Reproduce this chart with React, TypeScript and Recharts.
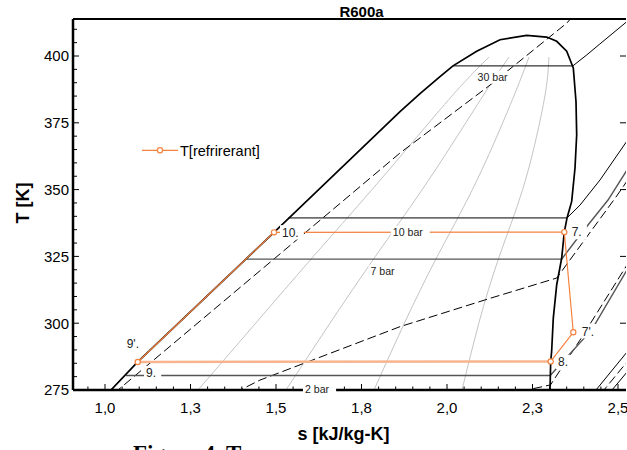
import React from "react";
import { ComposedChart, Line, XAxis, YAxis, ReferenceDot } from "recharts";

type Pt = [number, number]; // [s, T]

// axis ticks
const sMajorTicks = [1.0, 1.25, 1.5, 1.75, 2.0, 2.25, 2.5];
const sTickLabels = ["1,0", "1,3", "1,5", "1,8", "2,0", "2,3", "2,5"];
const sMinorTicks = [
  0.95, 1, 1.05, 1.1, 1.15, 1.2, 1.25, 1.3, 1.35, 1.4, 1.45, 1.5, 1.55, 1.6, 1.65, 1.7,
  1.75, 1.8, 1.85, 1.9, 1.95, 2, 2.05, 2.1, 2.15, 2.2, 2.25, 2.3, 2.35, 2.4, 2.45, 2.5,
];
const tMajorTicks = [275, 300, 325, 350, 375, 400];
const tMinorTicks = [
  275, 280, 285, 290, 295, 300, 305, 310, 315, 320, 325, 330, 335, 340, 345, 350, 355,
  360, 365, 370, 375, 380, 385, 390, 395, 400, 405, 410,
];

// saturation dome (liquid side, over the top, down the vapour side)
const satDome: Pt[] = [
  [1.001, 273.0], [1.0146, 274.6], [1.0956, 285.5], [1.4942, 334.0], [1.8626, 379.2],
  [1.9211, 385.9], [1.9795, 392.3], [2.0175, 396.3], [2.0868, 401.8], [2.155, 406.1], [2.233, 407.7],
  [2.2915, 407.1], [2.3208, 405.5], [2.35, 401.8], [2.3693, 395.5], [2.3772, 383.0],
  [2.3792, 370.5], [2.3743, 358.1], [2.3646, 345.6], [2.351, 339.4], [2.343, 334.1],
  [2.3354, 324.4], [2.3208, 314.4], [2.3108, 301.9], [2.306, 289.5], [2.3032, 285.7],
  [2.3012, 275.1], [2.3005, 273.0],
];

// quality lines (grey)
const quality02: Pt[] = [[1.2719, 275], [1.4406, 300], [1.6094, 325], [1.7807, 350], [1.9471, 375], [2.0494, 390], [2.1228, 399.6]];
const quality04: Pt[] = [[1.5292, 275], [1.6579, 300], [1.7906, 325], [1.9275, 350], [2.055, 375], [2.1301, 390], [2.1813, 399.6]];
const quality06: Pt[] = [[1.7865, 275], [1.8754, 300], [1.9716, 325], [2.0743, 350], [2.1629, 375], [2.2111, 390], [2.2398, 399.6]];
const quality08: Pt[] = [[2.0439, 275], [2.093, 300], [2.1529, 325], [2.2211, 350], [2.2708, 375], [2.2921, 390], [2.2982, 399.6]];

// isobars
const isobar30: Pt[] = [[2.0175, 396.3], [2.368, 396.3], [2.4085, 400.4], [2.447, 404.5], [2.5263, 412.9], [2.545, 415.0]];
const isobar10: Pt[] = [[1.536, 339.4], [2.351, 339.4], [2.3889, 344.2], [2.4474, 353.6], [2.5263, 368.2], [2.54, 371.0]];
const isobar7: Pt[] = [[1.4143, 324.0], [2.3354, 324.0], [2.3889, 333.0], [2.4708, 346.1], [2.5263, 357.3], [2.54, 360.0]];
const isobar2: Pt[] = [[1.0614, 280.4], [2.3017, 280.4], [2.4231, 297.5], [2.5263, 319.9], [2.54, 323.0]];
const isobarLow1: Pt[] = [[2.43, 273.5], [2.4357, 275], [2.5263, 289.2], [2.54, 291.5]];
const isobarLow2: Pt[] = [[2.477, 273.5], [2.4825, 275], [2.5263, 281.7], [2.54, 284.0]];

// dashed lines
const dashed1: Pt[] = [[1.03, 273.5], [1.038, 275], [1.491, 323.7], [1.8626, 363.7], [2.1257, 389.1], [2.351, 412.4], [2.375, 416.0]];
const dashed2: Pt[] = [[1.38, 274.0], [1.453, 278.7], [1.8626, 298.7], [2.1257, 309.3], [2.3208, 316.9], [2.4962, 347.6], [2.5263, 353.2], [2.54, 356.0]];
const dashed3: Pt[] = [[2.215, 274.5], [2.2339, 275], [2.3026, 276.9], [2.3889, 293.7], [2.5263, 321.8], [2.54, 324.5]];
const dashed4: Pt[] = [[2.453, 273.5], [2.459, 275], [2.5263, 285.5], [2.54, 287.6]];

// cycle T[refrirerant]: 9', 10, 7, 7', 8 and back to 9'
const cycleMain: Pt[] = [[1.0956, 285.5], [1.4942, 334.0], [2.343, 334.1], [2.3693, 296.6], [2.3032, 285.7]];
const cycleReturn: Pt[] = [[2.3032, 285.7], [1.0956, 285.5]];

const isobarLabels = [
  { text: "30 bar", s: 2.1404, T: 392.0 },
  { text: "10 bar", s: 1.8927, T: 334.0 },
  { text: "7 bar", s: 1.8187, T: 319.3 },
  { text: "2 bar", s: 1.6272, T: 275.4 },
];
const pointLabels = [
  { text: "10.", s: 1.5175, T: 334.0 },
  { text: "7.", s: 2.3646, T: 334.1 },
  { text: "7'.", s: 2.3939, T: 297.0 },
  { text: "8.", s: 2.3246, T: 285.5 },
  { text: "9'.", s: 1.0634, T: 292.5 },
  { text: "9.", s: 1.1199, T: 281.3 },
];

const S_DOMAIN: [number, number] = [0.9064, 2.5234];
const T_DOMAIN: [number, number] = [275, 413.85];

const ORANGE = "#f4823f";
const ORANGE_PALE = "#f7b48e";
const GREY = "#c4c4c4";
const FONT = '"Liberation Sans", Arial, sans-serif';

const rows = (pts: Pt[]) => pts.map(([s, T]) => ({ s, T }));
const majorIndex = (v: number, majors: number[]) => majors.findIndex((m) => Math.abs(m - v) < 1e-6);

function BottomTick({ x, y, payload }: any) {
  const i = majorIndex(payload.value, sMajorTicks);
  return (
    <g>
      <line x1={x} y1={y} x2={x} y2={y - (i >= 0 ? 6 : 3.5)} stroke="#000" strokeWidth={1} />
      {i >= 0 && (
        <text x={x} y={y + 23.3} textAnchor="middle" fontSize={15} fill="#000">
          {sTickLabels[i]}
        </text>
      )}
    </g>
  );
}

function TopTick({ x, y, payload }: any) {
  const i = majorIndex(payload.value, sMajorTicks);
  return <line x1={x} y1={y} x2={x} y2={y + (i >= 0 ? 6 : 3.5)} stroke="#000" strokeWidth={1} />;
}

function LeftTick({ x, y, payload }: any) {
  const i = majorIndex(payload.value, tMajorTicks);
  return (
    <g>
      <line x1={x} y1={y} x2={x + (i >= 0 ? 6 : 4)} y2={y} stroke="#000" strokeWidth={1} />
      {i >= 0 && (
        <text x={x - 4} y={y + 5.3} textAnchor="end" fontSize={15} fill="#000">
          {payload.value}
        </text>
      )}
    </g>
  );
}

function RightTick({ x, y }: any) {
  return <line x1={x} y1={y} x2={x - 6} y2={y} stroke="#000" strokeWidth={1} />;
}

function BoxLabel({ cx, cy, text, size, centered }: any) {
  const w = text.length * size * 0.55;
  const x0 = centered ? cx - w / 2 : cx;
  return (
    <g>
      <rect x={x0 - 2} y={cy - size * 0.6} width={w + 4} height={size * 1.2} fill="#fff" />
      <text x={x0} y={cy + size * 0.36} fontSize={size} fill="#222">
        {text}
      </text>
    </g>
  );
}

const plain = (key: string, pts: Pt[], stroke: string, width: number, dash?: string, type: any = "linear") => (
  <Line
    key={key}
    data={rows(pts)}
    dataKey="T"
    xAxisId="s"
    yAxisId="T"
    type={type}
    stroke={stroke}
    strokeWidth={width}
    strokeDasharray={dash}
    dot={false}
    activeDot={false}
    isAnimationActive={false}
  />
);

export default function App() {
  return (
    <div style={{ position: "absolute", left: 0, top: 0, width: 627, height: 450, fontFamily: FONT, background: "#fff" }}>
      <ComposedChart width={627} height={450} margin={{ top: 18, right: 0, bottom: 59, left: 72 }}>
        <XAxis xAxisId="s" dataKey="s" type="number" domain={S_DOMAIN} allowDataOverflow
          ticks={sMinorTicks} interval={0} tickSize={0} tickMargin={0} height={1}
          tickLine={false} tick={<BottomTick />} axisLine={{ stroke: "#000", strokeWidth: 2.5 }} />
        <XAxis xAxisId="top" orientation="top" type="number" domain={S_DOMAIN} allowDataOverflow
          ticks={sMinorTicks} interval={0} tickSize={0} tickMargin={0} height={1}
          tickLine={false} tick={<TopTick />} axisLine={{ stroke: "#000", strokeWidth: 2 }} />
        <YAxis yAxisId="T" type="number" domain={T_DOMAIN} allowDataOverflow
          ticks={tMinorTicks} interval={0} tickSize={0} tickMargin={0} width={1}
          tickLine={false} tick={<LeftTick />} axisLine={{ stroke: "#000", strokeWidth: 2.5 }} />
        <YAxis yAxisId="right" orientation="right" type="number" domain={T_DOMAIN} allowDataOverflow
          ticks={tMajorTicks} interval={0} tickSize={0} tickMargin={0} width={1}
          tickLine={false} tick={<RightTick />} axisLine={false} />

        {plain("q02", quality02, GREY, 1, undefined, "natural")}
        {plain("q04", quality04, GREY, 1, undefined, "natural")}
        {plain("q06", quality06, GREY, 1, undefined, "natural")}
        {plain("q08", quality08, GREY, 1, undefined, "natural")}

        {plain("d1", dashed1, "#000", 1, "9 4")}
        {plain("d2", dashed2, "#000", 1, "9 4")}
        {plain("d3", dashed3, "#000", 1, "9 4")}
        {plain("d4", dashed4, "#000", 1, "9 4")}

        {plain("p30", isobar30, "#000", 1)}
        {plain("p10", isobar10, "#000", 1)}
        {plain("p7", isobar7, "#555", 1.4)}
        {plain("p2", isobar2, "#555", 1.4)}
        {plain("pl1", isobarLow1, "#000", 1)}
        {plain("pl2", isobarLow2, "#000", 1)}

        {plain("dome", satDome, "#000", 1.7)}

        <Line data={rows(cycleReturn)} dataKey="T" xAxisId="s" yAxisId="T" type="linear"
          stroke={ORANGE_PALE} strokeWidth={2.5} dot={false} activeDot={false} isAnimationActive={false} />
        <Line data={rows(cycleMain)} dataKey="T" xAxisId="s" yAxisId="T" type="linear"
          stroke={ORANGE} strokeWidth={1.2} activeDot={false} isAnimationActive={false}
          dot={{ r: 2.6, fill: "#fff", stroke: ORANGE, strokeWidth: 1.2 }} />

        {isobarLabels.map((l) => (
          <ReferenceDot key={l.text} x={l.s} y={l.T} xAxisId="s" yAxisId="T" r={0} ifOverflow="visible" zIndex={2100}
            shape={(p: any) => <BoxLabel cx={p.cx} cy={p.cy} text={l.text} size={10.6} centered />} />
        ))}
        {pointLabels.map((l) => (
          <ReferenceDot key={l.text} x={l.s} y={l.T} xAxisId="s" yAxisId="T" r={0} ifOverflow="visible" zIndex={2100}
            shape={(p: any) => <BoxLabel cx={p.cx} cy={p.cy} text={l.text} size={12} />} />
        ))}
      </ComposedChart>

      <svg width={627} height={450} style={{ position: "absolute", left: 0, top: 0, pointerEvents: "none" }}>
        <text x={361.5} y={16.7} textAnchor="middle" fontWeight="bold" fontSize={15}>R600a</text>
        <text x={343.5} y={440} textAnchor="middle" fontWeight="bold" fontSize={18}>s [kJ/kg-K]</text>
        <text transform="translate(29,203) rotate(-90)" textAnchor="middle" fontWeight="bold" fontSize={18}>T [K]</text>
        <line x1={142} y1={150.3} x2={178} y2={150.3} stroke={ORANGE} strokeWidth={1.2} />
        <circle cx={160} cy={150.3} r={2.6} fill="#fff" stroke={ORANGE} strokeWidth={1.2} />
        <text x={180} y={155.5} fontSize={14.5}>T[refrirerant]</text>
        <text x={133} y={461} fontWeight="bold" fontSize={23} fontFamily='"Liberation Serif", "Times New Roman", serif'>Figure 4. T</text>
      </svg>
    </div>
  );
}
